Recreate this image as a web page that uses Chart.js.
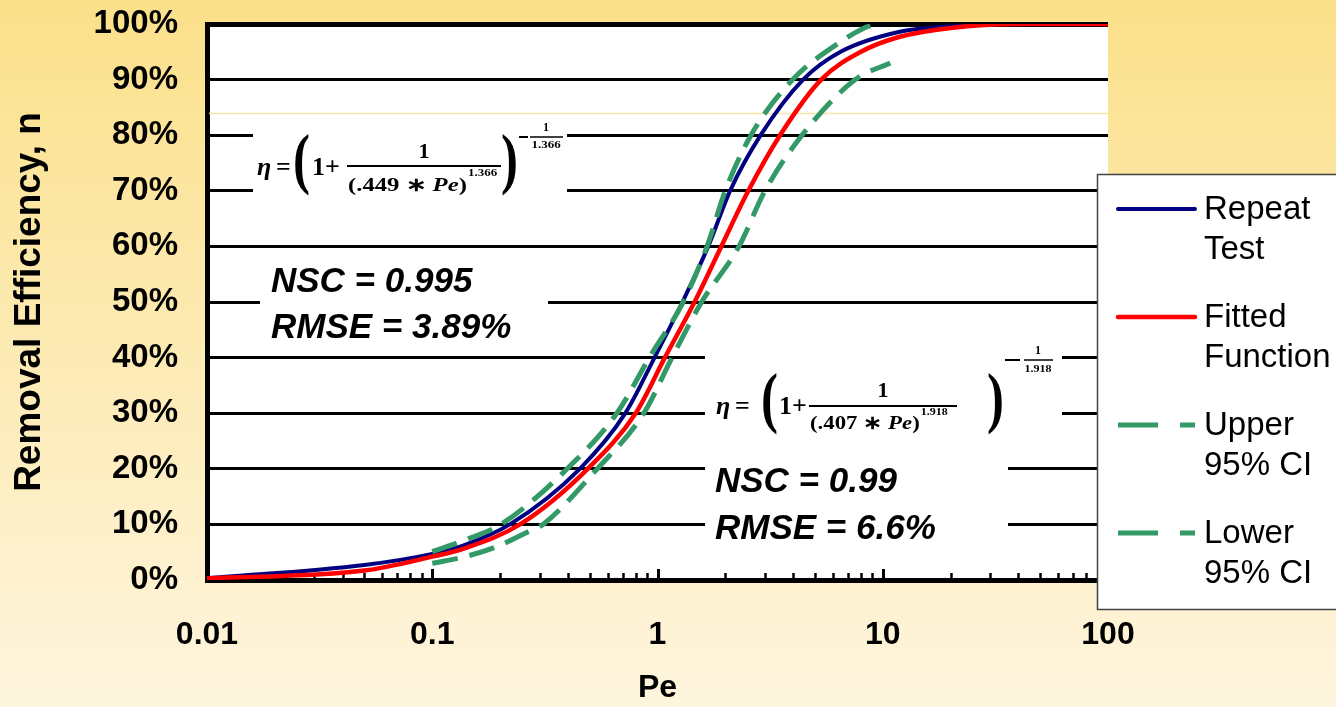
<!DOCTYPE html>
<html><head><meta charset="utf-8">
<script src="https://cdn.jsdelivr.net/npm/chart.js@4.4.1/dist/chart.umd.min.js"></script>
<style>html,body{margin:0;padding:0;overflow:hidden;background:#fdeebb}canvas{display:block}</style>
</head><body>
<canvas id="c" width="1336" height="707"></canvas>
<script>
// ---- data ----
const repeatPe  = [0.01, 0.05, 0.1, 0.137, 0.221, 0.452, 0.72, 0.97, 1.29, 1.68, 2.1, 2.87, 4.43, 6.5, 11.9, 20, 40, 100];
const repeatEff = [0.3, 2.7, 4.7, 6.2, 10, 20, 30, 40, 50, 60, 70, 80, 90, 95, 98.6, 99.6, 100, 100];
const fittedPe  = [0.01, 0.05, 0.1, 0.137, 0.245, 0.49, 0.8, 1.078, 1.46, 1.92, 2.53, 3.5, 5.33, 8, 11.9, 20, 40, 100];
const fittedEff = [0.3, 1.7, 4.2, 5.6, 10, 20, 30, 40, 50, 60, 70, 80, 90, 95, 97.7, 99.3, 100, 100];
const upperPe   = [0.1, 0.14, 0.202, 0.397, 0.66, 0.92, 1.3, 1.66, 2.0, 2.6, 3.98, 6.67, 8.2, 9.3];
const upperEff  = [5.1, 7.2, 10, 20, 30, 40, 50, 60, 70, 80, 90, 97.1, 99.2, 100];
const lowerPe   = [0.1, 0.14, 0.193, 0.267, 0.31, 0.54, 0.87, 1.16, 1.57, 2.3, 3.0, 4.38, 7.55, 10.8];
const lowerEff  = [3, 4.2, 6, 8.7, 10, 20, 30, 40, 50, 60, 70, 80, 90, 93];
const seriesLabels = ['Repeat Test', 'Fitted Function', 'Upper 95% CI', 'Lower 95% CI'];
const yTicks = [0, 10, 20, 30, 40, 50, 60, 70, 80, 90, 100];
const xTickLabels = ['0.01', '0.1', '1', '10', '100'];
const stats1 = ['NSC = 0.995', 'RMSE = 3.89%'];
const stats2 = ['NSC = 0.99', 'RMSE = 6.6%'];
const eq1 = {coef: '.449', expo: '1.366'};
const eq2 = {coef: '.407', expo: '1.918'};
const faintLineValue = 84;

const SANS = '"Liberation Sans", Arial, sans-serif';
const SERIF = '"Liberation Serif", "Times New Roman", serif';
const pts = (xs, ys) => xs.map((x, i) => ({x: x, y: ys[i]}));

function stext(ctx, t, x, y, font, sx, align) {
  ctx.save();
  ctx.font = font; ctx.textBaseline = 'middle'; ctx.textAlign = align || 'left';
  ctx.translate(x, y); ctx.scale(sx, 1); ctx.fillText(t, 0, 0);
  ctx.restore();
}
function runText(ctx, parts, x, y, sx) {
  for (const [t, f] of parts) {
    stext(ctx, t, x, y, f, sx);
    ctx.font = f;
    x += ctx.measureText(t).width * sx;
  }
  return x;
}
function hline(ctx, x1, x2, y, w) {
  ctx.beginPath(); ctx.lineWidth = w; ctx.moveTo(x1, y); ctx.lineTo(x2, y); ctx.stroke();
}
function drawEq(ctx, e, p) {
  ctx.fillStyle = '#000'; ctx.strokeStyle = '#000';
  const big = 'bold 26px ' + SERIF;
  stext(ctx, 'η', p.eta, p.y, 'italic bold 26px ' + SERIF, 1);
  stext(ctx, '=', p.eq, p.y, big, 1);
  stext(ctx, '(', p.lp, p.y - 5, 'bold 68px ' + SERIF, 0.75);
  stext(ctx, '1', p.one, p.y, big, 1);
  stext(ctx, '+', p.plus, p.y, big, 1);
  stext(ctx, '1', p.num, p.numY, 'bold 22px ' + SERIF, 1, 'center');
  hline(ctx, p.barL, p.barR, p.barY, 2);
  const f = 'bold 19px ' + SERIF;
  const endX = runText(ctx, [['(' + e.coef + ' \u2217 ', f], ['Pe', 'italic bold 19px ' + SERIF], [')', f]], p.den, p.denY, p.sx);
  stext(ctx, e.expo, endX + 1, p.expY, 'bold 10px ' + SERIF, p.sx);
  stext(ctx, ')', p.rp, p.y - 5, 'bold 68px ' + SERIF, 0.75);
  hline(ctx, p.minus[0], p.minus[1], p.supBarY, 2);
  hline(ctx, p.supBarL, p.supBarR, p.supBarY, 1.5);
  stext(ctx, '1', p.supX, p.supNumY, 'bold 12px ' + SERIF, 1, 'center');
  stext(ctx, e.expo, p.supX, p.supDenY, 'bold 10px ' + SERIF, p.sx, 'center');
}

const decor = {
  id: 'decor',
  beforeDraw(chart) {
    const {ctx, chartArea: a, width, height} = chart;
    ctx.save();
    const g = ctx.createLinearGradient(0, 0, 0, height);
    g.addColorStop(0, '#FBE08A');
    g.addColorStop(1, '#FEF5DE');
    ctx.fillStyle = g; ctx.fillRect(0, 0, width, height);
    ctx.fillStyle = '#fff'; ctx.fillRect(a.left, a.top, a.right - a.left, a.bottom - a.top);
    ctx.restore();
  },
  beforeDatasetsDraw(chart) {
    const {ctx, chartArea: a, scales: {x, y}} = chart;
    ctx.save();
    // white text boxes hiding the grid lines
    ctx.fillStyle = '#fff';
    ctx.fillRect(253, 116, 314, 84);
    ctx.fillRect(260, 252, 288, 98);
    ctx.fillRect(705, 342, 357, 92);
    ctx.fillRect(705, 446, 303, 100);
    // faint line
    ctx.strokeStyle = '#F6E3A6';
    hline(ctx, a.left + 2, a.right, Math.round(y.getPixelForValue(faintLineValue)) + 0.5, 1.5);
    // inward tick marks on x axis
    ctx.strokeStyle = '#000';
    for (let e = -2; e < 2; e++) {
      for (let m = 1; m <= 9; m++) {
        const v = m * Math.pow(10, e);
        const px = Math.round(x.getPixelForValue(v)) + 0.5;
        const len = m === 1 ? 11 : 7;
        ctx.beginPath(); ctx.lineWidth = m === 1 ? 3 : 2.5;
        ctx.moveTo(px, a.bottom); ctx.lineTo(px, a.bottom - len); ctx.stroke();
      }
    }
    // statistics text
    ctx.fillStyle = '#000';
    ctx.textAlign = 'left'; ctx.textBaseline = 'alphabetic';
    ctx.font = 'italic bold 35px ' + SANS;
    ctx.fillText(stats1[0], 271, 292);
    ctx.fillText(stats1[1], 271, 338);
    ctx.fillText(stats2[0], 715, 492);
    ctx.fillText(stats2[1], 715, 539);
    // equations
    drawEq(ctx, eq1, {eta: 257, eq: 276, lp: 293, one: 312, plus: 325, y: 168,
      num: 424, numY: 152, barL: 347, barR: 501, barY: 166, den: 348, denY: 186, expY: 173,
      rp: 501, minus: [519, 528], supBarL: 530, supBarR: 563, supBarY: 137, supX: 546, supNumY: 128, supDenY: 145, sx: 1.3});
    drawEq(ctx, eq2, {eta: 716, eq: 735, lp: 761, one: 779, plus: 792, y: 407,
      num: 883, numY: 391, barL: 809, barR: 957, barY: 406, den: 810, denY: 424, expY: 412,
      rp: 987, minus: [1005, 1020], supBarL: 1024, supBarR: 1053, supBarY: 360, supX: 1038, supNumY: 351, supDenY: 369, sx: 1.2});
    ctx.restore();
  },
  afterDraw(chart) {
    const {ctx} = chart;
    ctx.save();
    const L = 1097, T = 174, B = 609;
    ctx.fillStyle = '#fff'; ctx.fillRect(L, T, 300, B - T);
    ctx.strokeStyle = '#444'; ctx.lineWidth = 1.5; ctx.strokeRect(L + 0.5, T + 0.5, 300, B - T);
    chart.data.datasets.forEach((ds, i) => {
      const yy = 209 + i * 108;
      ctx.strokeStyle = ds.borderColor; ctx.lineWidth = ds.borderWidth;
      ctx.lineCap = ds.borderDash ? 'butt' : 'round';
      ctx.setLineDash(ds.borderDash ? [40, 22] : []);
      ctx.beginPath(); ctx.moveTo(1118, yy); ctx.lineTo(1195, yy); ctx.stroke();
      ctx.setLineDash([]);
      const k = ds.label.indexOf(' ');
      const lines = [ds.label.slice(0, k), ds.label.slice(k + 1)];
      ctx.fillStyle = '#000'; ctx.font = '33px ' + SANS;
      ctx.textAlign = 'left'; ctx.textBaseline = 'middle';
      ctx.fillText(lines[0], 1204, yy + 1);
      ctx.fillText(lines[1], 1204, yy + 41);
    });
    ctx.restore();
  }
};

const base = {pointRadius: 0, pointHoverRadius: 0, fill: false, cubicInterpolationMode: 'monotone'};
new Chart(document.getElementById('c'), {
  type: 'line',
  data: {
    datasets: [
      Object.assign({label: seriesLabels[0], data: pts(repeatPe, repeatEff), borderColor: '#000080', borderWidth: 4, order: 4}, base),
      Object.assign({label: seriesLabels[1], data: pts(fittedPe, fittedEff), borderColor: '#FF0000', borderWidth: 4.5, order: 3}, base),
      Object.assign({label: seriesLabels[2], data: pts(upperPe, upperEff), borderColor: '#339966', borderWidth: 5, borderDash: [26, 12], order: 1}, base),
      Object.assign({label: seriesLabels[3], data: pts(lowerPe, lowerEff), borderColor: '#339966', borderWidth: 5, borderDash: [26, 12], order: 2}, base)
    ]
  },
  options: {
    responsive: false, animation: false, devicePixelRatio: 1,
    layout: {padding: {top: 24, right: 228, bottom: 0, left: 0}},
    plugins: {legend: {display: false}, tooltip: {enabled: false}},
    scales: {
      x: {
        type: 'logarithmic', min: 0.01, max: 100,
        grid: {display: false, drawTicks: false},
        border: {display: true, color: '#000', width: 5},
        ticks: {
          autoSkip: false, maxRotation: 0, minRotation: 0, padding: 36, color: '#000',
          font: {family: SANS, size: 32, weight: 'bold'},
          callback: (v) => {
            const l = Math.log10(v);
            if (Math.abs(l - Math.round(l)) > 1e-6) return '';
            return xTickLabels[Math.round(l) + 2];
          }
        },
        title: {display: true, text: 'Pe', color: '#000', font: {family: SANS, size: 32, weight: 'bold'}, padding: {top: 0, bottom: 0}},
        afterFit: (s) => { s.height = 127; s.paddingLeft = 0; s.paddingRight = 0; }
      },
      y: {
        min: 0, max: 100,
        afterBuildTicks: (s) => { s.ticks = yTicks.map(v => ({value: v})); },
        grid: {color: '#000', lineWidth: (c) => (c.tick && c.tick.value === 100 ? 5 : 3), drawTicks: false},
        border: {display: true, color: '#000', width: 5},
        ticks: {padding: 29, color: '#000', font: {family: SANS, size: 33, weight: 'bold'}, callback: (v) => v + '%'},
        title: {display: true, text: 'Removal Efficiency, n', color: '#000', font: {family: SANS, size: 37, weight: 'bold'}, padding: {top: 8, bottom: 0}},
        afterFit: (s) => { s.width = 207; s.paddingTop = 0; s.paddingBottom = 0; }
      }
    }
  },
  plugins: [decor]
});
</script>
</body></html>
